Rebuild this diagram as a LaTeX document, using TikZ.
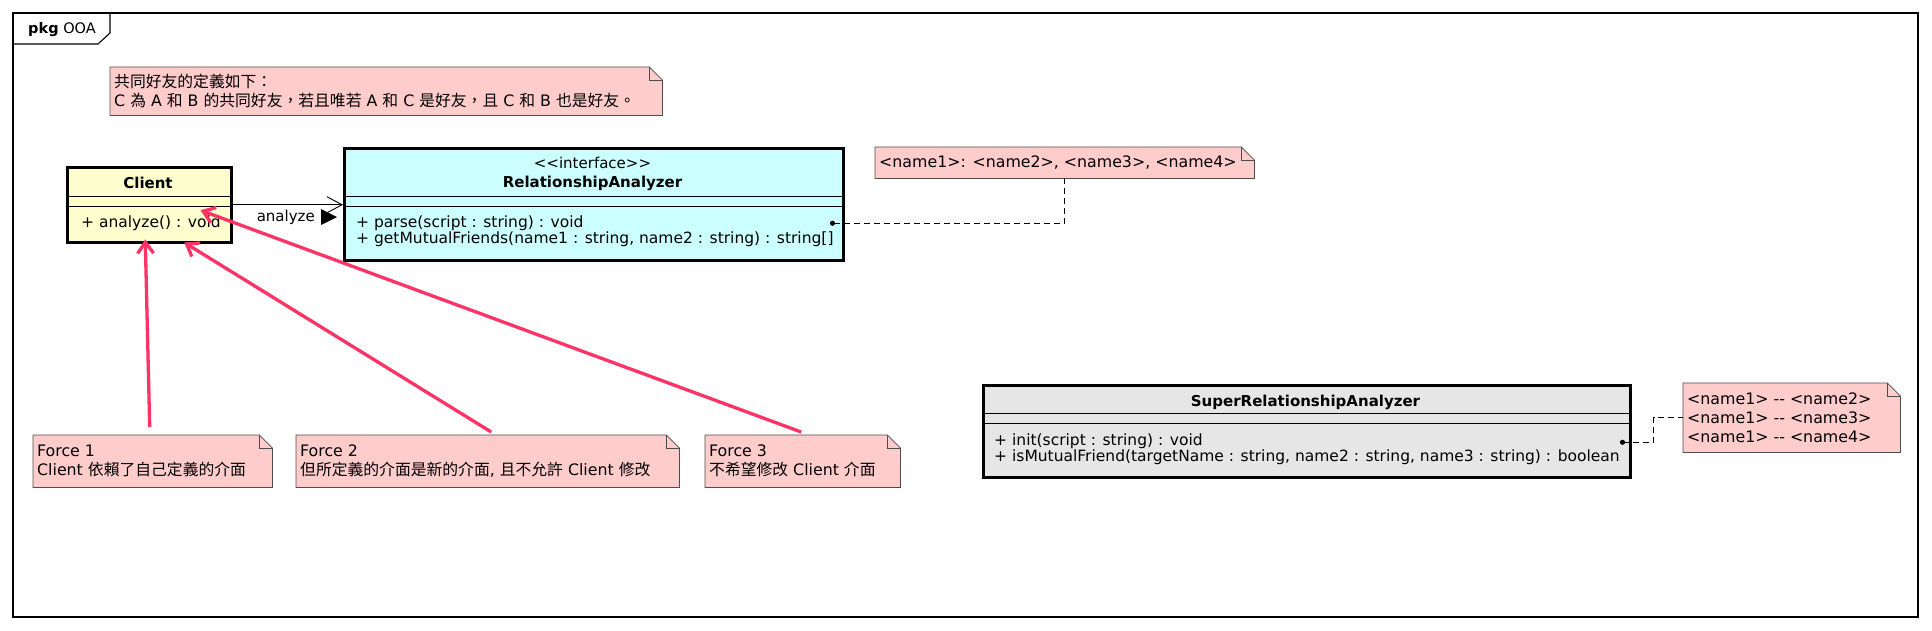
\documentclass[tikz,border=0pt]{standalone}
\usepackage{fontspec}
\setmainfont{DejaVu Sans}
\newfontfamily\cjk{Noto Sans CJK TC}
\usetikzlibrary{arrows.meta,calc}
\definecolor{notepink}{HTML}{FFCCCC}
\definecolor{clientyel}{HTML}{FEFECE}
\definecolor{racyan}{HTML}{CCFFFF}
\definecolor{supergrey}{HTML}{E6E6E6}
\definecolor{forcepink}{HTML}{FF3366}
\newcommand\drawfold[1]{%
  \path[noteline] (#1.north west) -- ([xshift=-13pt]#1.north east) -- ([yshift=-13pt]#1.north east) -- (#1.south east) -- (#1.south west) -- cycle;
  \draw[noteline, fill=none] ([xshift=-13pt]#1.north east) |- ([yshift=-13pt]#1.north east);}
\begin{document}
\begin{tikzpicture}[x=1pt,y=-1pt,
  classbox/.style={draw=black, line width=2.5pt, anchor=north west, inner sep=0pt},
  sepline/.style={line width=0.8pt},
  cls/.style={font=\fontsize{15}{17}\selectfont, inner sep=0pt},
  clsb/.style={font=\fontsize{15}{17}\selectfont\bfseries, inner sep=0pt},
  meth/.style={font=\fontsize{15.5}{17}\selectfont, inner sep=0pt, anchor=west},
  notebox/.style={anchor=north west, inner sep=0pt},
  notetext/.style={anchor=west, inner sep=0pt, align=left, font=\fontsize{15.8}{19}\selectfont},
  noteline/.style={draw=black!70, line width=0.8pt, fill=notepink},
  forcearrow/.style={draw=forcepink, line width=3.3pt, -{Straight Barb[length=11pt,width=16pt]}},
  dashconn/.style={dash pattern=on 6pt off 4pt, line width=1pt},
]
\useasboundingbox (0,0) rectangle (1932,630);

% package frame
\draw[line width=1.1pt] (13,13) rectangle (1918,617);
\draw[line width=1.1pt] (13,44) -- (98,44) -- (110,33) -- (110,13);
\node[font=\fontsize{14.5}{16}\selectfont, inner sep=0pt] (pkg) at (62,30) {\textbf{pkg} OOA};

% note 1
\node[notebox, minimum width=552pt, minimum height=48pt] (n1) at (110,67) {};
\drawfold{n1}
\node[notetext] (n1t) at ([xshift=4pt]n1.west) {{\cjk 共同好友的定義如下：}\\C {\cjk 為} A {\cjk 和} B {\cjk 的共同好友，若且唯若} A {\cjk 和} C {\cjk 是好友，且} C {\cjk 和} B {\cjk 也是好友。}};

% Client
\node[classbox, fill=clientyel, minimum width=164pt, minimum height=75pt] (client) at (66,166) {};
\node[clsb] (clientname) at (148,183) {Client};
\draw[sepline] (66,196) -- (230,196);
\draw[sepline] (66,206) -- (230,206);
\node[meth] (clientm1) at (81,223) {+ analyze() : void};

% RelationshipAnalyzer
\node[classbox, fill=racyan, minimum width=499pt, minimum height=112pt] (ra) at (343,147) {};
\node[cls] (rastereo) at (592.5,163) {<\kern0pt<interface>\kern0pt>};
\node[clsb] (raname) at (592.5,183) {RelationshipAnalyzer};
\draw[sepline] (343,196) -- (842,196);
\draw[sepline] (343,206) -- (842,206);
\node[meth] (ram1) at (356,223) {+ parse(script : string) : void};
\node[meth] (ram2) at (356,239) {+ getMutualFriends(name1 : string, name2 : string) : string[]};

% association
\draw[line width=0.9pt, -{Straight Barb[length=15pt,width=16pt]}] (client.east) -- (ra.west |- client.east);
\node[cls, anchor=east] (alabel) at (315,217) {analyze};
\fill ($(alabel.east)+(6,-8)$) -- ++(16,8) -- ++(-16,8) -- cycle;

% note 2
\node[notebox, minimum width=379pt, minimum height=31pt] (n2) at (875,147) {};
\drawfold{n2}
\node[notetext] (n2t) at ([xshift=4pt]n2.west) {<name1>: <name2>, <name3>, <name4>};
\coordinate (radot) at ($(ra.east)+(-12,19)$);
\draw[dashconn] (n2.south) |- (radot);
\fill (radot) circle (2.6pt);

% SuperRelationshipAnalyzer
\node[classbox, fill=supergrey, minimum width=647pt, minimum height=92pt] (super) at (982,384) {};
\node[clsb] (supername) at (1305.5,402) {SuperRelationshipAnalyzer};
\draw[sepline] (982,413) -- (1629,413);
\draw[sepline] (982,423) -- (1629,423);
\node[meth] (superm1) at (994,441) {+ init(script : string) : void};
\node[meth] (superm2) at (994,457) {+ isMutualFriend(targetName : string, name2 : string, name3 : string) : boolean};

% note 4
\node[notebox, minimum width=217pt, minimum height=69pt] (n4) at (1683,383) {};
\drawfold{n4}
\node[notetext] (n4t) at ([xshift=4pt]n4.west) {<name1> -\kern0pt- <name2>\\<name1> -\kern0pt- <name3>\\<name1> -\kern0pt- <name4>};
\coordinate (superdot) at ($(super.east)+(-9,11)$);
\draw[dashconn] (superdot) -- ++(31,0) |- (n4.west);
\fill (superdot) circle (2.6pt);

% forces
\node[notebox, minimum width=239pt, minimum height=52pt] (f1) at (33,435) {};
\drawfold{f1}
\node[notetext] (f1t) at ([xshift=4pt]f1.west) {Force 1\\Client {\cjk 依賴了自己定義的介面}};

\node[notebox, minimum width=383pt, minimum height=52pt] (f2) at (296,435) {};
\drawfold{f2}
\node[notetext] (f2t) at ([xshift=4pt]f2.west) {Force 2\\{\cjk 但所定義的介面是新的介面}, {\cjk 且不允許} Client {\cjk 修改}};

\node[notebox, minimum width=195pt, minimum height=52pt] (f3) at (705,435) {};
\drawfold{f3}
\node[notetext] (f3t) at ([xshift=4pt]f3.west) {Force 3\\{\cjk 不希望修改} Client {\cjk 介面}};

\draw[forcearrow] ($(f1.north)+(-3,-8)$) -- ($(client.south)+(-4,-4)$);
\draw[forcearrow] ($(f2.north)+(3.5,-3)$) -- ($(client.south)+(35,-1)$);
\draw[forcearrow] ($(f3.north)+(-1.5,-3)$) -- ($(client.east)+(-32,5.5)$);
\end{tikzpicture}
\end{document}
